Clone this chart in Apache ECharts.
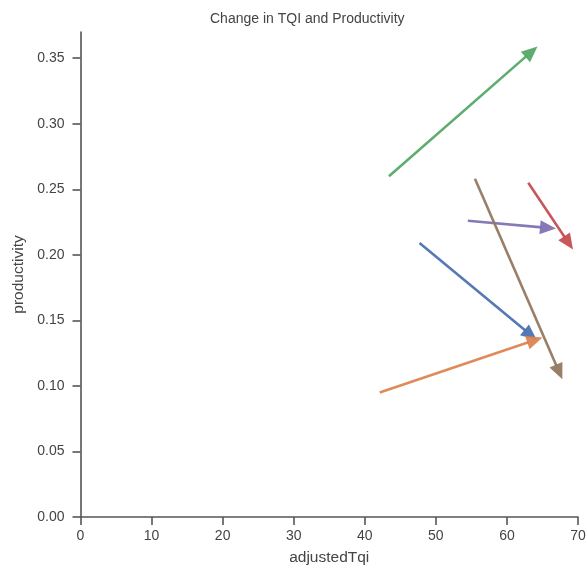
<!DOCTYPE html>
<html>
<head>
<meta charset="utf-8">
<script src="https://cdn.jsdelivr.net/npm/echarts@6/dist/echarts.min.js"></script>
<style>
  html, body { margin: 0; padding: 0; background: #ffffff; }
  #chart { width: 588px; height: 568px; }
</style>
</head>
<body>
<div id="chart"></div>
<script>
// Each arrow runs from a start (TQI, productivity) to an end (TQI, productivity).
const startTqi  = [47.7, 42.1, 43.4, 63.0, 54.5, 55.5];
const startProd = [0.209, 0.095, 0.260, 0.255, 0.226, 0.258];
const endTqi    = [64.2, 65.0, 64.3, 69.3, 66.9, 67.8];
const endProd   = [0.135, 0.137, 0.359, 0.204, 0.220, 0.105];
const arrowColors = ['#4c72b0', '#dd8452', '#55a868', '#c44e52', '#8172b3', '#937860'];

const xTicks = [0, 10, 20, 30, 40, 50, 60, 70];
const yTicks = [0, 0.05, 0.10, 0.15, 0.20, 0.25, 0.30, 0.35];

const arrowRows = startTqi.map((x0, i) => [x0, startProd[i], endTqi[i], endProd[i], i]);

const textColor = '#444';
const axisColor = '#555';
const font = 'Liberation Sans, Arial, sans-serif';

function renderArrow(params, api) {
  const p0 = api.coord([api.value(0), api.value(1)]);
  const p1 = api.coord([api.value(2), api.value(3)]);
  const color = arrowColors[api.value(4)];
  const dx = p1[0] - p0[0], dy = p1[1] - p0[1];
  const len = Math.sqrt(dx * dx + dy * dy);
  const ux = dx / len, uy = dy / len;
  const headLen = 16, headHalf = 7;
  const bx = p1[0] - ux * headLen, by = p1[1] - uy * headLen;
  const nx = -uy, ny = ux;
  return {
    type: 'group',
    children: [
      {
        type: 'line',
        shape: { x1: p0[0], y1: p0[1], x2: bx + ux * 2, y2: by + uy * 2 },
        style: { stroke: color, lineWidth: 2.6, opacity: 0.95 }
      },
      {
        type: 'polygon',
        shape: { points: [
          [p1[0], p1[1]],
          [bx + nx * headHalf, by + ny * headHalf],
          [bx - nx * headHalf, by - ny * headHalf]
        ] },
        style: { fill: color, opacity: 0.95 }
      }
    ]
  };
}

const chart = echarts.init(document.getElementById('chart'), null, { renderer: 'canvas' });
chart.setOption({
  backgroundColor: '#ffffff',
  animation: false,
  title: {
    text: 'Change in TQI and Productivity',
    left: 205, top: 7,
    textStyle: { fontFamily: font, fontSize: 14, fontWeight: 'normal', color: textColor }
  },
  grid: { left: 80.5, right: 10, top: 32, bottom: 51, containLabel: false, outerBoundsMode: 'none' },
  xAxis: {
    type: 'value', min: 0, max: 70, interval: 10,
    name: 'adjustedTqi', nameLocation: 'middle', nameGap: 33,
    nameTextStyle: { fontFamily: font, fontSize: 15.5, color: textColor },
    axisLine: { show: true, lineStyle: { color: axisColor, width: 1.6 } },
    axisTick: { show: true, length: 8, lineStyle: { color: axisColor, width: 1.6 },
      customValues: xTicks },
    axisLabel: { fontFamily: font, fontSize: 14, color: textColor, margin: 12,
      customValues: xTicks },
    splitLine: { show: false }
  },
  yAxis: {
    type: 'value', min: 0, max: 0.37,
    name: 'productivity', nameLocation: 'middle', nameGap: 53, nameRotate: 90,
    nameTextStyle: { fontFamily: font, fontSize: 15.5, color: textColor },
    axisLine: { show: true, onZero: false, lineStyle: { color: axisColor, width: 1.6 } },
    axisTick: { show: true, length: 8, lineStyle: { color: axisColor, width: 1.6 },
      customValues: yTicks },
    axisLabel: { fontFamily: font, fontSize: 14, color: textColor, margin: 16,
      customValues: yTicks, formatter: v => v.toFixed(2) },
    splitLine: { show: false }
  },
  series: [{
    type: 'custom',
    renderItem: renderArrow,
    encode: { x: [0, 2], y: [1, 3] },
    data: arrowRows,
    clip: false
  }]
});
</script>
</body>
</html>
